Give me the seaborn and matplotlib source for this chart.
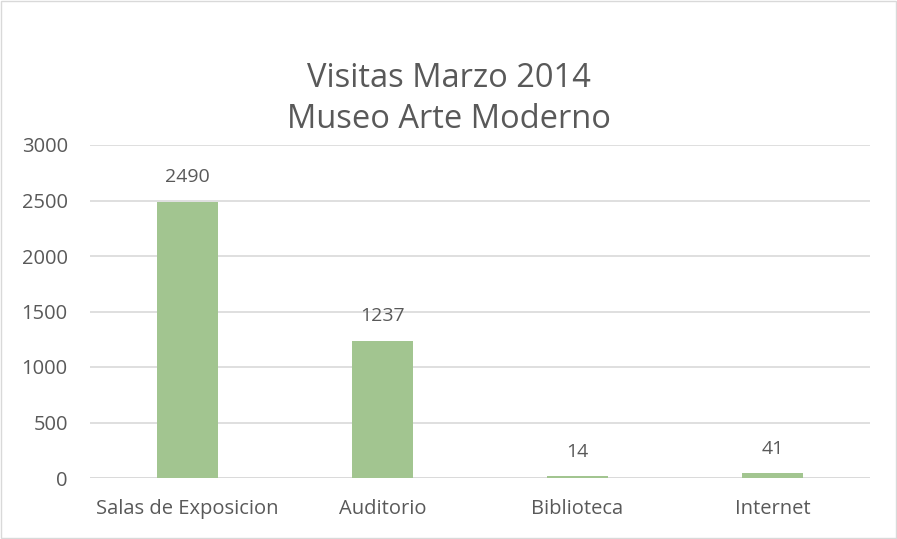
import matplotlib
matplotlib.use("Agg")
import matplotlib.pyplot as plt
import seaborn as sns
import pandas as pd
from matplotlib.patches import Rectangle

categories = ["Salas de Exposicion", "Auditorio", "Biblioteca", "Internet"]
values = [2490, 1237, 14, 41]
yticks = [0, 500, 1000, 1500, 2000, 2500, 3000]
title = "Visitas Marzo 2014\nMuseo Arte Moderno"

sns.set_theme(style="white")
plt.rcParams['font.family'] = ['Open Sans', 'DejaVu Sans']

text_color = "#595959"
grid_color = "#D9D9D9"
bar_color = "#A2C590"

fig = plt.figure(figsize=(8.97, 5.39), dpi=100)
ax = fig.add_axes([90/897, 1-478/539, 780/897, 333/539])

df = pd.DataFrame({"cat": categories, "val": values})
sns.barplot(data=df, x="cat", y="val", ax=ax, color=bar_color, width=0.31,
            saturation=1, edgecolor="none", zorder=3)

ax.set_ylim(0, 3000)
ax.set_xlim(-0.5, len(categories) - 0.5)
ax.set_yticks(yticks)
ax.set_yticklabels([str(t) for t in yticks])
ax.yaxis.grid(True, color=grid_color, linewidth=1.2, zorder=0)
ax.xaxis.grid(False)
for s in ax.spines.values():
    s.set_visible(False)
ax.axhline(0, color=grid_color, linewidth=1.2, zorder=2)
ax.tick_params(axis="both", length=0, labelsize=14.5, colors=text_color)
ax.tick_params(axis="y", pad=16)
ax.tick_params(axis="x", pad=15)
ax.set_xlabel("")
ax.set_ylabel("")

for i, v in enumerate(values):
    ax.annotate(str(v), (i, v), xytext=(0, 11), textcoords="offset points",
                ha="center", va="bottom", fontsize=14, color=text_color)

fig.text(0.5, 1 - 99/539, title, ha="center", va="center", fontsize=23.5,
         color=text_color, linespacing=1.33)

fig.patches.append(Rectangle((1/897, 1/539), 895/897, 537/539, transform=fig.transFigure,
                             fill=False, edgecolor="#D9D9D9", linewidth=1))

fig.savefig("out.png", dpi=100)
